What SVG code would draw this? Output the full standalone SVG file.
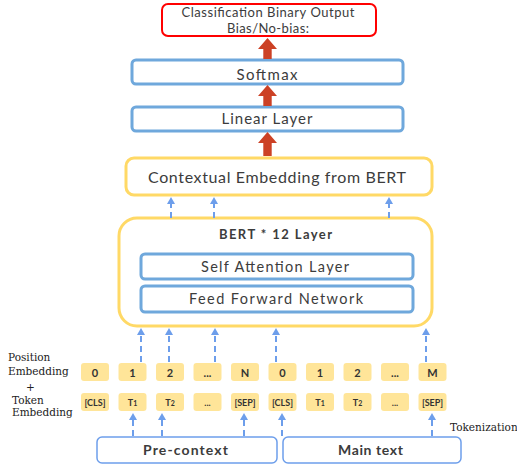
<svg xmlns="http://www.w3.org/2000/svg" width="517" height="466" viewBox="0 0 517 466">
<defs>
<style>
.bluebox{fill:#fff;stroke:#6fa8dc;stroke-width:3}
.ybox{fill:#fff;stroke:#ffd966;stroke-width:3}
.tok{fill:#ffe599;stroke:none}
.lbl{font-family:Lato,"Open Sans",sans-serif;fill:#3c3c3c;text-anchor:middle}
.side{font-family:"DejaVu Serif","Liberation Serif",serif;fill:#222;font-size:10.5px}
.pt{font-family:Lato,sans-serif;font-weight:bold;font-size:11px;fill:#333;text-anchor:middle}
.tt{font-family:Lato,sans-serif;font-weight:bold;font-size:9px;fill:#333;text-anchor:middle}
.dash{stroke:#6d9eeb;stroke-width:2;stroke-dasharray:6 4;fill:none;marker-end:url(#ah)}
.orange{fill:#cc4125}
</style>
<marker id="ah" markerUnits="userSpaceOnUse" markerWidth="8" markerHeight="8" refX="1" refY="4" orient="auto">
<path d="M0,0 L7,4 L0,8 z" fill="#6d9eeb"/>
</marker>
</defs>

<g id="output">
<rect x="162" y="4" width="214" height="32" rx="6" fill="#fff" stroke="#ff0000" stroke-width="2"/>
<text class="lbl" x="268" y="17" font-size="13" textLength="173" lengthAdjust="spacing">Classification Binary Output</text>
<text class="lbl" x="268" y="33" font-size="13" textLength="82" lengthAdjust="spacing">Bias/No-bias:</text>
</g>

<g id="softmax">
<rect class="bluebox" x="132" y="60" width="271" height="24" rx="4"/>
<text class="lbl" x="267" y="80" font-size="15" textLength="61" lengthAdjust="spacing">Softmax</text>
</g>

<g id="linear">
<rect class="bluebox" x="132" y="107" width="271" height="24" rx="4"/>
<text class="lbl" x="267" y="124" font-size="15" textLength="91" lengthAdjust="spacing">Linear Layer</text>
</g>

<g id="contextual">
<rect class="ybox" x="126" y="158" width="306" height="37" rx="8"/>
<text class="lbl" x="277" y="183" font-size="16" textLength="258" lengthAdjust="spacing">Contextual Embedding from BERT</text>
</g>

<g id="bert">
<rect class="ybox" x="119" y="218" width="313" height="108" rx="18"/>
<text class="lbl" x="275.5" y="239" font-size="13" font-weight="bold" fill="#222" textLength="113" lengthAdjust="spacing">BERT * 12 Layer</text>
</g>

<g id="selfattn">
<rect class="bluebox" x="141" y="254" width="272" height="25" rx="4"/>
<text class="lbl" x="275" y="272" font-size="14.5" textLength="148" lengthAdjust="spacing">Self Attention Layer</text>
</g>

<g id="ffn">
<rect class="bluebox" x="141" y="286" width="272" height="26" rx="4"/>
<text class="lbl" x="276" y="304" font-size="14.5" textLength="174" lengthAdjust="spacing">Feed Forward Network</text>
</g>

<g id="pos-embeddings">
<rect class="tok" x="81" y="363" width="28" height="18" rx="3"/><text class="pt" x="95" y="377">0</text>
<rect class="tok" x="118.5" y="363" width="28" height="18" rx="3"/><text class="pt" x="132.5" y="377">1</text>
<rect class="tok" x="156" y="363" width="28" height="18" rx="3"/><text class="pt" x="170" y="377">2</text>
<rect class="tok" x="193.5" y="363" width="28" height="18" rx="3"/><text class="pt" x="207.5" y="377" font-size="8">...</text>
<rect class="tok" x="231" y="363" width="28" height="18" rx="3"/><text class="pt" x="245" y="377">N</text>
<rect class="tok" x="268.5" y="363" width="28" height="18" rx="3"/><text class="pt" x="282.5" y="377">0</text>
<rect class="tok" x="306" y="363" width="28" height="18" rx="3"/><text class="pt" x="320" y="377">1</text>
<rect class="tok" x="343.5" y="363" width="28" height="18" rx="3"/><text class="pt" x="357.5" y="377">2</text>
<rect class="tok" x="381" y="363" width="28" height="18" rx="3"/><text class="pt" x="395" y="377" font-size="8">...</text>
<rect class="tok" x="418.5" y="363" width="28" height="18" rx="3"/><text class="pt" x="432.5" y="377">M</text>
</g>

<g id="token-embeddings">
<rect class="tok" x="81" y="393" width="28" height="18" rx="3"/><text class="tt" x="95" y="406">[CLS]</text>
<rect class="tok" x="118.5" y="393" width="28" height="18" rx="3"/><text class="tt" x="132.5" y="406">T<tspan font-size="7">1</tspan></text>
<rect class="tok" x="156" y="393" width="28" height="18" rx="3"/><text class="tt" x="170" y="406">T<tspan font-size="7">2</tspan></text>
<rect class="tok" x="193.5" y="393" width="28" height="18" rx="3"/><text class="tt" x="207.5" y="406" font-size="8">...</text>
<rect class="tok" x="231" y="393" width="28" height="18" rx="3"/><text class="tt" x="245" y="406">[SEP]</text>
<rect class="tok" x="268.5" y="393" width="28" height="18" rx="3"/><text class="tt" x="282.5" y="406">[CLS]</text>
<rect class="tok" x="306" y="393" width="28" height="18" rx="3"/><text class="tt" x="320" y="406">T<tspan font-size="7">1</tspan></text>
<rect class="tok" x="343.5" y="393" width="28" height="18" rx="3"/><text class="tt" x="357.5" y="406">T<tspan font-size="7">2</tspan></text>
<rect class="tok" x="381" y="393" width="28" height="18" rx="3"/><text class="tt" x="395" y="406" font-size="8">...</text>
<rect class="tok" x="418.5" y="393" width="28" height="18" rx="3"/><text class="tt" x="432.5" y="406">[SEP]</text>
</g>

<g id="precontext">
<rect x="97" y="437" width="180" height="26" rx="5" fill="#fff" stroke="#6d9eeb" stroke-width="1.5"/>
<text class="lbl" x="185.5" y="455" font-size="14" font-weight="bold" fill="#222" textLength="85" lengthAdjust="spacing">Pre-context</text>
</g>

<g id="maintext">
<rect x="283" y="437" width="178" height="26" rx="5" fill="#fff" stroke="#6d9eeb" stroke-width="1.5"/>
<text class="lbl" x="370.5" y="455" font-size="14" font-weight="bold" fill="#222" textLength="65" lengthAdjust="spacing">Main text</text>
</g>

<g id="side-labels">
<text class="side" x="8" y="361">Position</text>
<text class="side" x="8" y="375">Embedding</text>
<text class="side" x="26" y="391">+</text>
<text class="side" x="12" y="404">Token</text>
<text class="side" x="12" y="416">Embedding</text>
<text class="side" x="450" y="431" font-size="9">Tokenization</text>
</g>

<g id="connectors">
<polygon class="orange" points="267.5,38 277,49 271.7,49 271.7,59 263.3,59 263.3,49 258,49"/>
<polygon class="orange" points="267.5,85 277,96 271.7,96 271.7,106 263.3,106 263.3,96 258,96"/>
<polygon class="orange" points="267.5,132 277,143 271.7,143 271.7,156 263.3,156 263.3,143 258,143"/>
<line class="dash" x1="171" y1="218" x2="171" y2="203"/>
<line class="dash" x1="214" y1="218" x2="214" y2="203"/>
<line class="dash" x1="389" y1="218" x2="389" y2="203"/>
<line class="dash" x1="141" y1="362" x2="141" y2="334"/>
<line class="dash" x1="169" y1="362" x2="169" y2="334"/>
<line class="dash" x1="215" y1="362" x2="215" y2="334"/>
<line class="dash" x1="276" y1="362" x2="276" y2="334"/>
<line class="dash" x1="426" y1="362" x2="426" y2="334"/>
<line class="dash" x1="133" y1="436" x2="133" y2="419"/>
<line class="dash" x1="162" y1="436" x2="162" y2="419"/>
<line class="dash" x1="244" y1="436" x2="244" y2="419"/>
<line class="dash" x1="282" y1="436" x2="282" y2="419"/>
<line class="dash" x1="432" y1="436" x2="432" y2="419"/>
</g>
</svg>
